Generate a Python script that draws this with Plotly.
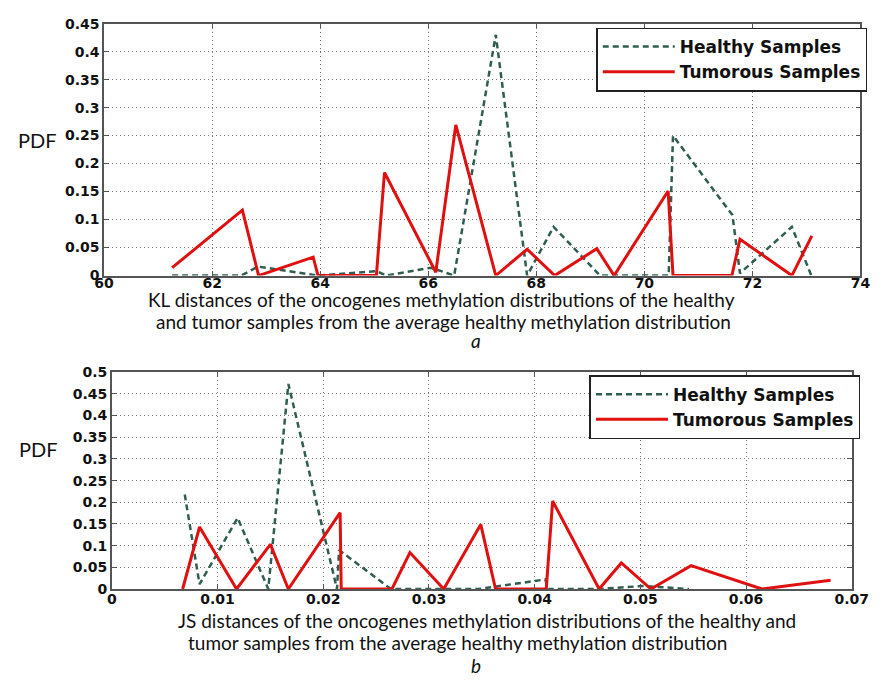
import plotly.graph_objects as go

# ---- Panel a: KL distances ----
kl_healthy_x = [61.26, 62.54, 62.85, 63.96, 65.05, 65.22, 66.05, 66.48, 67.25, 67.83, 68.32, 69.18, 70.45, 70.53, 71.63, 71.77, 72.73, 73.09]
kl_healthy_y = [0.0, 0.0, 0.016, 0.0, 0.008, 0.0, 0.014, 0.0, 0.43, 0.0, 0.087, 0.0, 0.0, 0.25, 0.108, 0.004, 0.087, 0.0]
kl_tumor_x = [61.26, 62.56, 62.86, 63.87, 63.96, 65.04, 65.19, 66.14, 66.51, 67.25, 67.83, 68.34, 69.12, 69.44, 70.44, 70.53, 71.62, 71.77, 72.73, 73.1]
kl_tumor_y = [0.014, 0.117, 0.0, 0.033, 0.0, 0.0, 0.184, 0.006, 0.269, 0.0, 0.047, 0.0, 0.048, 0.0, 0.151, 0.0, 0.0, 0.065, 0.0, 0.071]

# ---- Panel b: JS distances ----
js_healthy_x = [0.0069, 0.0083, 0.0119, 0.0148, 0.0167, 0.0213, 0.0215, 0.0264, 0.0347, 0.0410, 0.0413, 0.0460, 0.0503, 0.0546]
js_healthy_y = [0.218, 0.011, 0.164, 0.0, 0.473, 0.0, 0.09, 0.0, 0.0, 0.022, 0.0, 0.0, 0.007, 0.0]
js_tumor_x = [0.0067, 0.0083, 0.0118, 0.0150, 0.0167, 0.0216, 0.0217, 0.0265, 0.0282, 0.0314, 0.0349, 0.0363, 0.0411, 0.0417, 0.0461, 0.0482, 0.0510, 0.0548, 0.0615, 0.0680]
js_tumor_y = [0.0, 0.143, 0.0, 0.103, 0.0, 0.176, 0.0, 0.0, 0.084, 0.0, 0.149, 0.0, 0.0, 0.203, 0.0, 0.06, 0.0, 0.054, 0.0, 0.02]

legend_names = ["Healthy Samples", "Tumorous Samples"]

GREEN = "#2f5e50"
RED = "#e01010"
W, H = 893, 680

fig = go.Figure()

fig.add_trace(go.Scatter(x=kl_healthy_x, y=kl_healthy_y, mode="lines", name=legend_names[0],
                         line=dict(color=GREEN, width=2.5, dash="6px,4px"), xaxis="x", yaxis="y", legend="legend"))
fig.add_trace(go.Scatter(x=kl_tumor_x, y=kl_tumor_y, mode="lines", name=legend_names[1],
                         line=dict(color=RED, width=3), xaxis="x", yaxis="y", legend="legend"))
fig.add_trace(go.Scatter(x=js_healthy_x, y=js_healthy_y, mode="lines", name=legend_names[0],
                         line=dict(color=GREEN, width=2.5, dash="6px,4px"), xaxis="x2", yaxis="y2", legend="legend2"))
fig.add_trace(go.Scatter(x=js_tumor_x, y=js_tumor_y, mode="lines", name=legend_names[1],
                         line=dict(color=RED, width=3), xaxis="x2", yaxis="y2", legend="legend2"))

tickfont = dict(family="DejaVu Sans", size=14, color="#111", weight="bold")
common = dict(showline=True, linecolor="#555", linewidth=1.5, mirror="ticks", ticks="inside", ticklen=5,
              tickcolor="#555", showgrid=True, gridcolor="#777", griddash="1px,3px", gridwidth=1,
              zeroline=False, tickfont=tickfont)

def px_x(p):
    return p / W

def px_y(p):
    return 1 - p / H

legend_font = dict(family="DejaVu Sans", size=17, color="#111", weight="bold")

fig.update_layout(
    width=W, height=H, margin=dict(l=0, r=0, t=0, b=0),
    paper_bgcolor="white", plot_bgcolor="white",
    xaxis=dict(domain=[px_x(97), px_x(877)], range=[60, 74], dtick=2, anchor="y", ticklabelstandoff=-6, **common),
    yaxis=dict(domain=[px_y(274), px_y(16)], range=[0, 0.45], dtick=0.05, anchor="x", **common),
    xaxis2=dict(domain=[px_x(105), px_x(868)], range=[0, 0.07], dtick=0.01, anchor="y2", ticklabelstandoff=-4, **common),
    yaxis2=dict(domain=[px_y(595), px_y(373)], range=[0, 0.5], dtick=0.05, anchor="x2", **common),
    legend=dict(x=px_x(884), y=px_y(20), xanchor="right", yanchor="top", bgcolor="white",
                bordercolor="#222", borderwidth=1.5, tracegroupgap=0, itemwidth=72, font=legend_font),
    legend2=dict(x=px_x(877), y=px_y(376), xanchor="right", yanchor="top", bgcolor="white",
                 bordercolor="#222", borderwidth=1.5, tracegroupgap=0, itemwidth=72, font=legend_font),
)

txt_font = dict(family="Lato", size=19, color="#111")
pdf_font = dict(family="Lato", size=20, color="#111")
annos = [
    ("PDF", 28, 135, pdf_font),
    ("PDF", 29, 452, pdf_font),
    ("KL distances of the oncogenes methylation distributions of the healthy", 445, 299, txt_font),
    ("and tumor samples from the average healthy methylation distribution", 447, 321, txt_font),
    ("<i>a</i>", 481, 341, txt_font),
    ("JS distances of the oncogenes methylation distributions of the healthy and", 492, 627, txt_font),
    ("tumor samples from the average healthy methylation distribution", 461, 650, txt_font),
    ("<i>b</i>", 481, 673, txt_font),
]
for text, x, y, f in annos:
    fig.add_annotation(text=text, x=px_x(x), y=px_y(y), xref="paper", yref="paper",
                       xanchor="center", yanchor="middle", showarrow=False, font=f)

fig.write_html("out.html")
